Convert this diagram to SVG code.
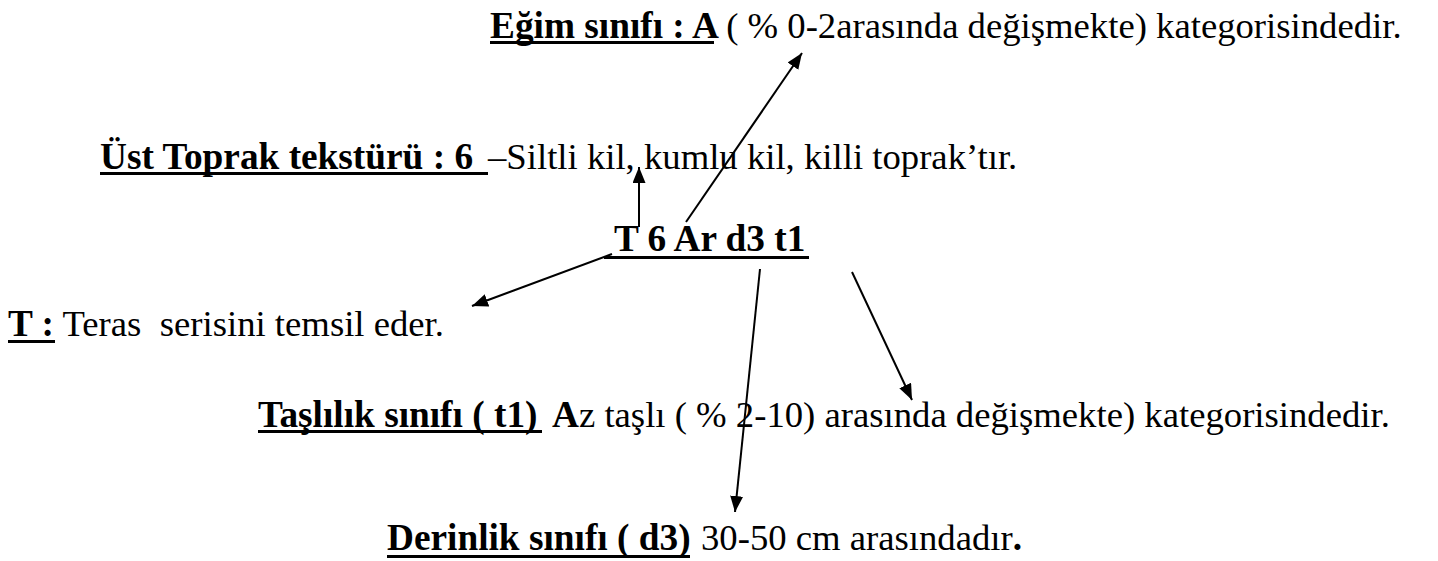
<svg xmlns="http://www.w3.org/2000/svg" width="1438" height="561" viewBox="0 0 1438 561">
  <style>
    text { font-family: "Liberation Serif", "Times New Roman", serif; font-size: 36.7px; fill: #000; }
    .b { font-weight: bold; font-size: 37.3px; }
    .ul { stroke: #000; stroke-width: 3; }
    .conn { stroke: #000; stroke-width: 2; fill: none; marker-end: url(#head); }
  </style>
  <defs>
    <marker id="head" markerUnits="userSpaceOnUse" markerWidth="16" markerHeight="13" refX="16" refY="6.5" orient="auto">
      <path d="M0,0 L16,6.5 L0,13 z" fill="#000"/>
    </marker>
  </defs>
  <rect width="1438" height="561" fill="#fff"/>

  <!-- slope class -->
  <g id="egim">
    <text x="490" y="38" xml:space="preserve"><tspan class="b">Eğim sınıfı : A</tspan><tspan x="717"> ( % 0-2arasında değişmekte) kategorisindedir.</tspan></text>
    <line class="ul" x1="490" y1="42.5" x2="714" y2="42.5"/>
  </g>

  <!-- topsoil texture -->
  <g id="tekstur">
    <text x="100" y="169" xml:space="preserve"><tspan class="b">Üst Toprak tekstürü : 6 </tspan><tspan x="488">–Siltli kil, kumlu kil, killi toprak’tır.</tspan></text>
    <line class="ul" x1="100" y1="173.5" x2="488" y2="173.5"/>
  </g>

  <!-- map unit symbol -->
  <g id="sembol">
    <text class="b" x="614" y="251">T 6 Ar d3 t1</text>
    <line class="ul" x1="604" y1="257.5" x2="809" y2="257.5"/>
  </g>

  <!-- soil series -->
  <g id="seri">
    <text x="8" y="336" xml:space="preserve"><tspan class="b">T :</tspan> Teras  serisini temsil eder.</text>
    <line class="ul" x1="8" y1="341.5" x2="55" y2="341.5"/>
  </g>

  <!-- stoniness class -->
  <g id="taslilik">
    <text x="258" y="427" xml:space="preserve"><tspan class="b">Taşlılık sınıfı ( t1)</tspan><tspan class="b" x="552">A</tspan>z taşlı ( % 2-10) arasında değişmekte) kategorisindedir.</text>
    <line class="ul" x1="258" y1="431.5" x2="542" y2="431.5"/>
  </g>

  <!-- depth class -->
  <g id="derinlik">
    <text x="387" y="550" xml:space="preserve"><tspan class="b">Derinlik sınıfı ( d3)</tspan><tspan x="701">30-50 cm arasındadır</tspan><tspan class="b">.</tspan></text>
    <line class="ul" x1="387" y1="556.5" x2="690" y2="556.5"/>
  </g>

  <g id="connectors">
    <line class="conn" x1="686" y1="222" x2="802" y2="53"/>
    <line class="conn" x1="639" y1="227" x2="639" y2="167"/>
    <line class="conn" x1="612" y1="254" x2="472" y2="306"/>
    <line class="conn" x1="760" y1="269" x2="735" y2="512"/>
    <line class="conn" x1="852" y1="272" x2="912" y2="400"/>
  </g>
</svg>
